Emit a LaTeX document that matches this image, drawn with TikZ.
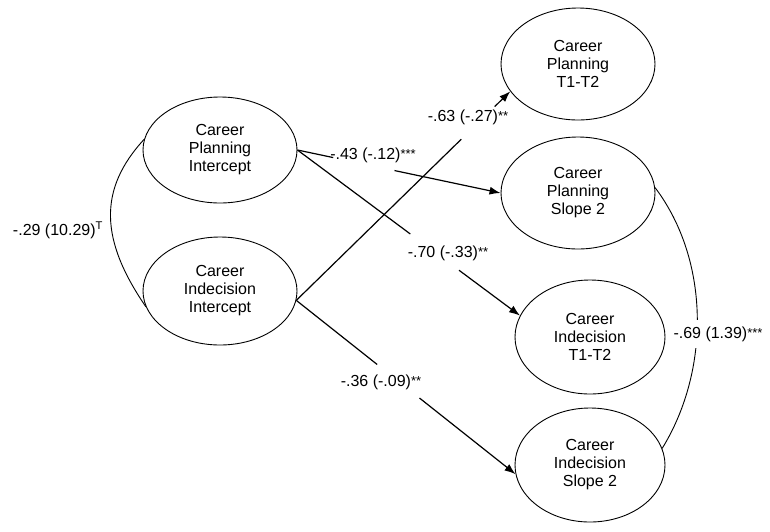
\documentclass[tikz,border=0pt]{standalone}
\usepackage{fontspec}
\setmainfont{Liberation Sans}
\usetikzlibrary{shapes.geometric,arrows.meta,calc}
\newcommand\mystars[1]{\raisebox{1pt}{\fontsize{13}{13}\selectfont #1}}
\begin{document}
\begin{tikzpicture}[x=1pt,y=-1pt,
  lat/.style={draw, ellipse, line width=0.9pt, inner sep=0pt, align=center,
    font=\fontsize{16}{18}\selectfont},
  arr/.style={line width=1.2pt, -{Latex[length=11pt,width=8pt]}},
  seg/.style={line width=1.2pt},
  cov/.style={line width=0.9pt},
  lbl/.style={font=\fontsize{16}{18}\selectfont, inner sep=1pt}]
\useasboundingbox (0,0) rectangle (770,531);
% latent variables
\node[lat, minimum width=154pt, minimum height=106pt] (cpi) at (220,150) {Career\\Planning\\Intercept};
\node[lat, minimum width=154pt, minimum height=108pt] (cii) at (220,291) {Career\\Indecision\\Intercept};
\node[lat, minimum width=154pt, minimum height=112pt] (cpt) at (578,64) {Career\\Planning\\T1-T2};
\node[lat, minimum width=154pt, minimum height=112pt] (cps) at (578,193) {Career\\Planning\\Slope 2};
\node[lat, minimum width=150pt, minimum height=114pt] (cit) at (590,337) {Career\\Indecision\\T1-T2};
\node[lat, minimum width=150pt, minimum height=114pt] (cis) at (590,465) {Career\\Indecision\\Slope 2};
% CPI -> CPS2
\draw[seg] (cpi.east) -- ($(cpi.east)!0.176!(cps.west)$);
\draw[arr] ($(cpi.east)!0.478!(cps.west)$) -- (cps.west);
\node[lbl] (l1) at (373,155) {-.43 (-.12)\mystars{***}};
% CPI -> CIT1T2
\draw[seg] (cpi.east) -- ($(cpi.east)!0.507!(cit.163)$);
\draw[arr] ($(cpi.east)!0.726!(cit.163)$) -- (cit.163);
\node[lbl] (l2) at (448,253) {-.70 (-.33)\mystars{**}};
% CII -> CPT1T2
\draw[seg] (cii.-7) -- ($(cii.-7)!0.771!(cpt.202)$);
\draw[arr] ($(cii.-7)!0.927!(cpt.202)$) -- (cpt.202);
\node[lbl] (l3) at (468,117) {-.63 (-.27)\mystars{**}};
% CII -> CIS2
\draw[seg] (cii.-7) -- ($(cii.-7)!0.369!(cis.187)$);
\draw[arr] ($(cii.-7)!0.562!(cis.187)$) -- (cis.187);
\node[lbl] (l4) at (381,382) {-.36 (-.09)\mystars{**}};
% covariances
\draw[cov] (cpi.172) .. controls +(-46,50) and +(-46,-67) .. (cii.192);
\node[lbl] (l5) at (58,230) {-.29 (10.29)\textsuperscript{T}};
\draw[cov] (cps.4) .. controls +(55,73) and +(48,-78) .. (cis.13);
\node[lbl, fill=white, inner ysep=7pt] (l6) at (718,334) {-.69 (1.39)\mystars{***}};
\end{tikzpicture}
\end{document}
